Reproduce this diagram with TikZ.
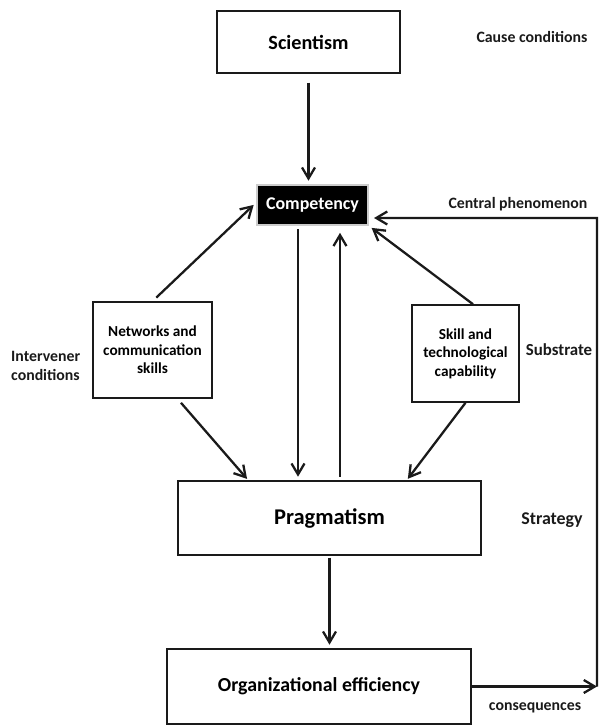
\documentclass[tikz,border=0pt]{standalone}
\usepackage{fontspec}
\setmainfont{Carlito}
\usepackage{xcolor}
\usetikzlibrary{arrows.meta}
\definecolor{gdark}{HTML}{1a1a1a}

\begin{document}
\begin{tikzpicture}[x=0.02cm, y=-0.02cm,
		gbox/.style={draw=gdark, line width=0.9pt, fill=white, align=center, font=\bfseries, inner sep=2pt},
		glabel/.style={font=\bfseries\fontsize{9}{11}\selectfont, text=gdark, align=left},
		garrow/.style={draw=gdark, line width=1.3pt, -{Straight Barb[length=2.2mm, width=2.6mm]}}]
		\useasboundingbox (0,0) rectangle (600,727);
		% boxes
		\node[gbox, minimum width=3.66cm, minimum height=1.24cm, font=\bfseries\fontsize{11.5}{13}\selectfont] (sci) at (308.5,42) {Scientism};
		\node[gbox, fill=black, text=white, draw=gray!40, minimum width=2.22cm, minimum height=0.8cm, font=\bfseries\fontsize{10.2}{12}\selectfont] (comp) at (312.5,205) {Competency};
		\node[gbox, minimum width=2.38cm, minimum height=1.92cm, font=\bfseries\fontsize{8.7}{10.5}\selectfont] (net) at (152.5,350) {Networks and\\communication\\skills};
		\node[gbox, minimum width=2.14cm, minimum height=1.94cm, font=\bfseries\fontsize{8.7}{10.5}\selectfont] (skill) at (465.5,353.5) {Skill and\\technological\\capability};
		\node[gbox, minimum width=6.06cm, minimum height=1.48cm, font=\bfseries\fontsize{12.8}{14}\selectfont] (prag) at (329.5,518) {Pragmatism};
		\node[gbox, minimum width=6.08cm, minimum height=1.5cm, font=\bfseries\fontsize{11.3}{13}\selectfont] (org) at (319,686.5) {Organizational efficiency};
		% side labels
		\node[glabel] (cause) at (532,37) {Cause conditions};
		\node[glabel] (central) at (518,204) {Central phenomenon};
		\node[glabel, anchor=west] (interv) at (5,366) {Intervener\\conditions};
		\node[glabel, font=\bfseries\fontsize{9.6}{12}\selectfont] (subs) at (559,350) {Substrate};
		\node[glabel, font=\bfseries\fontsize{10.2}{12}\selectfont] (strat) at (552,520) {Strategy};
		\node[glabel] (conseq) at (535,708) {consequences};
		% arrows
		\draw[garrow, shorten <=5pt, shorten >=2pt] (sci.south) -- (sci.south |- comp.north);
		\draw[garrow, shorten <=3pt, shorten >=2pt] (net.north) -- ([yshift=0.05cm]comp.west);
		\draw[garrow, shorten >=2pt] ([xshift=0.15cm]skill.north) -- (comp.south east);
		\draw[garrow, shorten <=3pt, shorten >=1pt] ([xshift=0.5cm]net.south) -- ([xshift=1.42cm]prag.north west);
		\draw[garrow, shorten >=1pt] (skill.south) -- ([xshift=-1.5cm]prag.north east);
		\draw[garrow, shorten <=2pt, shorten >=2pt] ([xshift=-0.29cm]comp.south) -- ([xshift=-0.29cm]comp.south |- prag.north);
		\draw[garrow, shorten <=2pt, shorten >=4pt] ([xshift=0.55cm]comp.south |- prag.north) -- ([xshift=0.55cm]comp.south);
		\draw[garrow, shorten <=1pt, shorten >=2pt] (prag.south) -- (prag.south |- org.north);
		% feedback loop
		\coordinate (loopb) at (597,686.5);
		\coordinate (loopt) at (597,218);
		\draw[garrow] (org.east) -- (loopb);
		\draw[garrow, shorten >=3pt] (loopb) -- (loopt) -- ([yshift=-0.26cm]comp.east);
	\end{tikzpicture}
\end{document}
